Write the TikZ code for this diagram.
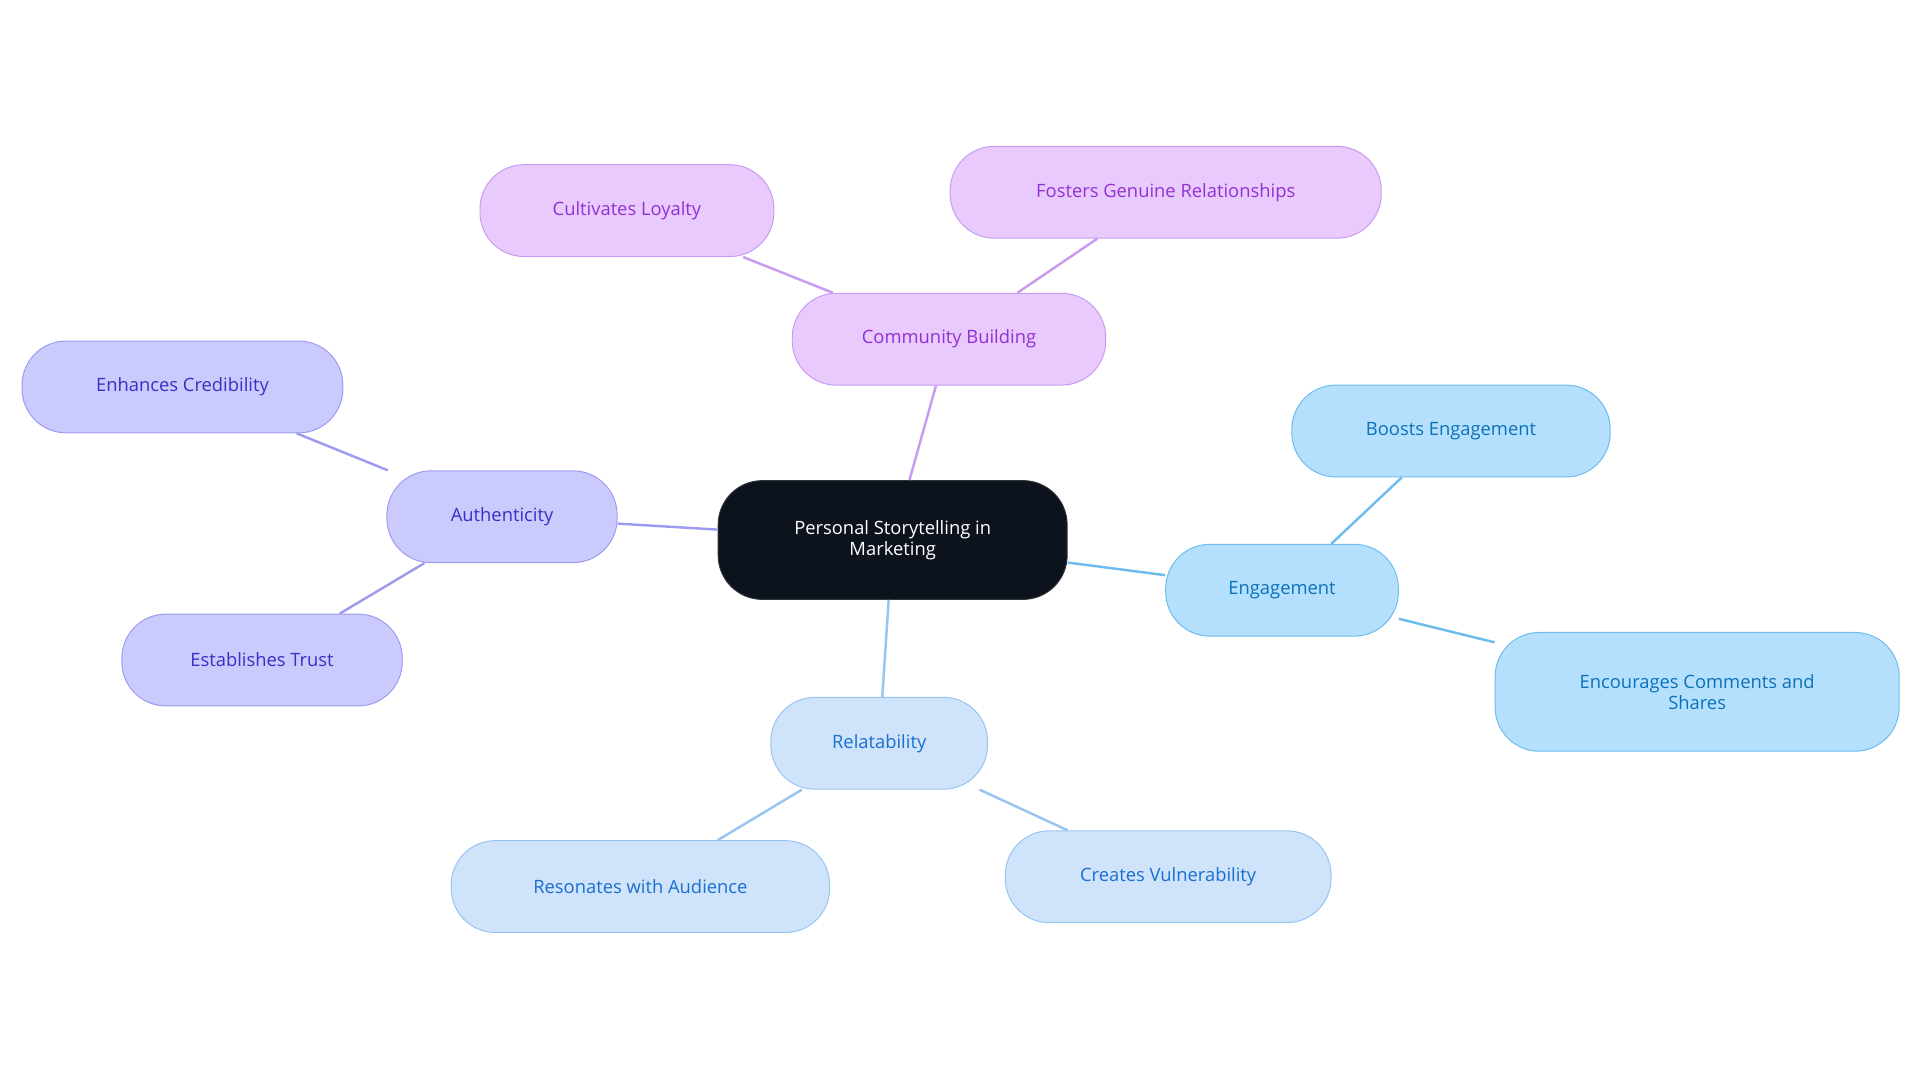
\documentclass[tikz,border=0pt]{standalone}
\usepackage{fontspec}
\setmainfont{Open Sans}
\usetikzlibrary{positioning}
\definecolor{rootfill}{HTML}{0D131C}
\definecolor{cbfill}{HTML}{E8CAFD}\definecolor{cbdraw}{HTML}{C89BF0}\definecolor{cbtext}{HTML}{9330D4}
\definecolor{aufill}{HTML}{CBCAFD}\definecolor{audraw}{HTML}{9D9BF0}\definecolor{autext}{HTML}{3A2FC4}
\definecolor{enfill}{HTML}{B5E0FD}\definecolor{endraw}{HTML}{6CBCEE}\definecolor{entext}{HTML}{0B72B9}
\definecolor{refill}{HTML}{CFE3FB}\definecolor{redraw}{HTML}{98C4F0}\definecolor{retext}{HTML}{1A6FCF}
\tikzset{
  box/.style={rounded corners=36pt, inner sep=0pt, align=center, font=\fontsize{15}{17}\selectfont, line width=0.8pt},
  cb/.style={box, fill=cbfill, draw=cbdraw, text=cbtext},
  au/.style={box, fill=aufill, draw=audraw, text=autext},
  en/.style={box, fill=enfill, draw=endraw, text=entext},
  re/.style={box, fill=refill, draw=redraw, text=retext},
  link/.style={line width=2pt}
}
\begin{document}
\begin{tikzpicture}[x=1pt,y=-1pt]
    \useasboundingbox (0,0) rectangle (1568,884);
    % root
    \node[box, fill=rootfill, draw=rootfill!70!gray, text=white, minimum width=285pt, minimum height=97pt] (root) at (729,441) {Personal Storytelling in\\Marketing};
    % community building
    \node[cb, minimum width=256pt, minimum height=75pt] (comm) at (775,277) {Community Building};
    \node[cb, minimum width=240pt, minimum height=75pt] (loyal) at (512,172) {Cultivates Loyalty};
    \node[cb, minimum width=352pt, minimum height=75pt] (foster) at (952,157) {Fosters Genuine Relationships};
    % authenticity
    \node[au, minimum width=188pt, minimum height=75pt] (auth) at (410,422) {Authenticity};
    \node[au, minimum width=262pt, minimum height=75pt] (cred) at (149,316) {Enhances Credibility};
    \node[au, minimum width=229pt, minimum height=75pt] (trust) at (214,539) {Establishes Trust};
    % engagement
    \node[en, minimum width=190pt, minimum height=75pt] (eng) at (1047,482) {Engagement};
    \node[en, minimum width=260pt, minimum height=75pt] (boost) at (1185,352) {Boosts Engagement};
    \node[en, minimum width=330pt, minimum height=97pt] (share) at (1386,565) {Encourages Comments and\\Shares};
    % relatability
    \node[re, minimum width=177pt, minimum height=75pt] (rel) at (718,607) {Relatability};
    \node[re, minimum width=309pt, minimum height=75pt] (reson) at (523,724) {Resonates with Audience};
    \node[re, minimum width=266pt, minimum height=75pt] (vuln) at (954,716) {Creates Vulnerability};
    % links
    \begin{scope}[on background layer/.style={}]
    \draw[link, cbdraw] (root) -- (comm);
    \draw[link, cbdraw] (comm) -- (loyal);
    \draw[link, cbdraw] (comm) -- (foster);
    \draw[link, audraw] (root) -- (auth);
    \draw[link, audraw] (auth) -- (cred);
    \draw[link, audraw] (auth) -- (trust);
    \draw[link, endraw] (root) -- (eng);
    \draw[link, endraw] (eng) -- (boost);
    \draw[link, endraw] (eng) -- (share);
    \draw[link, redraw] (root) -- (rel);
    \draw[link, redraw] (rel) -- (reson);
    \draw[link, redraw] (rel) -- (vuln);
    \end{scope}
\end{tikzpicture}
\end{document}
